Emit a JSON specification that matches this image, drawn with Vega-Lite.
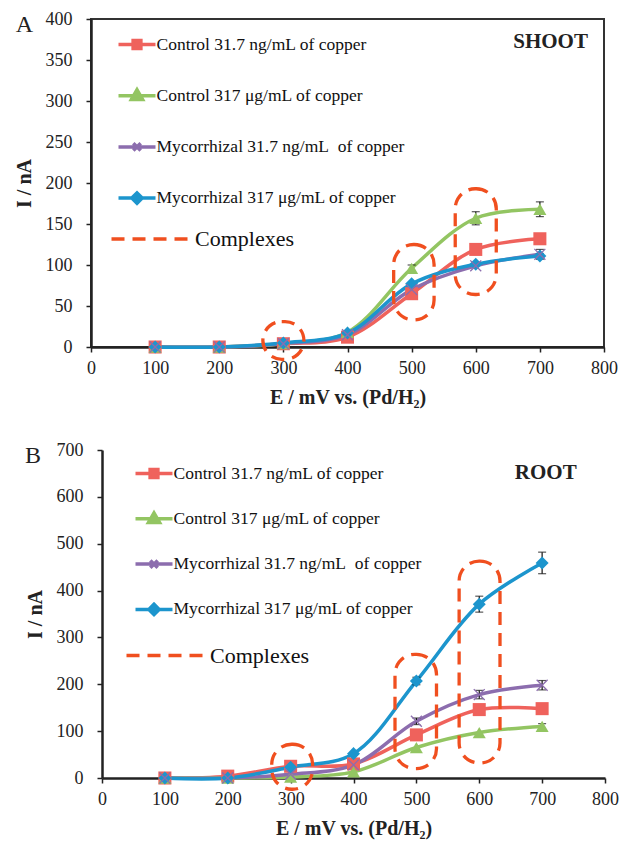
{
  "$schema": "https://vega.github.io/schema/vega-lite/v6.json",
  "padding": {"left": 13, "top": 9, "right": 0, "bottom": 5},
  "background": "white",
  "spacing": 33,
  "columns": 1,
  "datasets": {
    "pts": [
      {"panel": "A", "series": "Control 31.7 ng/mL of copper", "E": 100, "I": 0, "err": 0},
      {"panel": "A", "series": "Control 31.7 ng/mL of copper", "E": 200, "I": 0, "err": 0},
      {"panel": "A", "series": "Control 31.7 ng/mL of copper", "E": 300, "I": 4, "err": 0},
      {"panel": "A", "series": "Control 31.7 ng/mL of copper", "E": 400, "I": 12, "err": 0},
      {"panel": "A", "series": "Control 31.7 ng/mL of copper", "E": 500, "I": 65, "err": 0},
      {"panel": "A", "series": "Control 31.7 ng/mL of copper", "E": 600, "I": 119, "err": 0},
      {"panel": "A", "series": "Control 31.7 ng/mL of copper", "E": 700, "I": 132, "err": 0},
      {"panel": "A", "series": "Control 317 μg/mL of copper", "E": 100, "I": 0, "err": 0},
      {"panel": "A", "series": "Control 317 μg/mL of copper", "E": 200, "I": 0, "err": 0},
      {"panel": "A", "series": "Control 317 μg/mL of copper", "E": 300, "I": 4, "err": 0},
      {"panel": "A", "series": "Control 317 μg/mL of copper", "E": 400, "I": 18, "err": 0},
      {"panel": "A", "series": "Control 317 μg/mL of copper", "E": 500, "I": 96, "err": 4},
      {"panel": "A", "series": "Control 317 μg/mL of copper", "E": 600, "I": 157, "err": 8},
      {"panel": "A", "series": "Control 317 μg/mL of copper", "E": 700, "I": 168, "err": 9},
      {"panel": "A", "series": "Mycorrhizal 31.7 ng/mL\u00a0 of copper", "E": 100, "I": 0, "err": 0},
      {"panel": "A", "series": "Mycorrhizal 31.7 ng/mL\u00a0 of copper", "E": 200, "I": 0, "err": 0},
      {"panel": "A", "series": "Mycorrhizal 31.7 ng/mL\u00a0 of copper", "E": 300, "I": 4, "err": 0},
      {"panel": "A", "series": "Mycorrhizal 31.7 ng/mL\u00a0 of copper", "E": 400, "I": 15, "err": 0},
      {"panel": "A", "series": "Mycorrhizal 31.7 ng/mL\u00a0 of copper", "E": 500, "I": 70, "err": 0},
      {"panel": "A", "series": "Mycorrhizal 31.7 ng/mL\u00a0 of copper", "E": 600, "I": 99, "err": 0},
      {"panel": "A", "series": "Mycorrhizal 31.7 ng/mL\u00a0 of copper", "E": 700, "I": 113, "err": 6},
      {"panel": "A", "series": "Mycorrhizal 317 μg/mL of copper", "E": 100, "I": 0, "err": 0},
      {"panel": "A", "series": "Mycorrhizal 317 μg/mL of copper", "E": 200, "I": 0, "err": 0},
      {"panel": "A", "series": "Mycorrhizal 317 μg/mL of copper", "E": 300, "I": 5, "err": 0},
      {"panel": "A", "series": "Mycorrhizal 317 μg/mL of copper", "E": 400, "I": 17, "err": 0},
      {"panel": "A", "series": "Mycorrhizal 317 μg/mL of copper", "E": 500, "I": 77, "err": 0},
      {"panel": "A", "series": "Mycorrhizal 317 μg/mL of copper", "E": 600, "I": 101, "err": 0},
      {"panel": "A", "series": "Mycorrhizal 317 μg/mL of copper", "E": 700, "I": 111, "err": 3},
      {"panel": "B", "series": "Control 31.7 ng/mL of copper", "E": 100, "I": 0, "err": 0},
      {"panel": "B", "series": "Control 31.7 ng/mL of copper", "E": 200, "I": 4, "err": 0},
      {"panel": "B", "series": "Control 31.7 ng/mL of copper", "E": 300, "I": 25, "err": 0},
      {"panel": "B", "series": "Control 31.7 ng/mL of copper", "E": 400, "I": 30, "err": 0},
      {"panel": "B", "series": "Control 31.7 ng/mL of copper", "E": 500, "I": 92, "err": 0},
      {"panel": "B", "series": "Control 31.7 ng/mL of copper", "E": 600, "I": 146, "err": 0},
      {"panel": "B", "series": "Control 31.7 ng/mL of copper", "E": 700, "I": 148, "err": 0},
      {"panel": "B", "series": "Control 317 μg/mL of copper", "E": 100, "I": 0, "err": 0},
      {"panel": "B", "series": "Control 317 μg/mL of copper", "E": 200, "I": 0, "err": 0},
      {"panel": "B", "series": "Control 317 μg/mL of copper", "E": 300, "I": 2, "err": 0},
      {"panel": "B", "series": "Control 317 μg/mL of copper", "E": 400, "I": 13, "err": 0},
      {"panel": "B", "series": "Control 317 μg/mL of copper", "E": 500, "I": 65, "err": 0},
      {"panel": "B", "series": "Control 317 μg/mL of copper", "E": 600, "I": 97, "err": 0},
      {"panel": "B", "series": "Control 317 μg/mL of copper", "E": 700, "I": 110, "err": 6},
      {"panel": "B", "series": "Mycorrhizal 31.7 ng/mL\u00a0 of copper", "E": 100, "I": 0, "err": 0},
      {"panel": "B", "series": "Mycorrhizal 31.7 ng/mL\u00a0 of copper", "E": 200, "I": 0, "err": 0},
      {"panel": "B", "series": "Mycorrhizal 31.7 ng/mL\u00a0 of copper", "E": 300, "I": 8, "err": 0},
      {"panel": "B", "series": "Mycorrhizal 31.7 ng/mL\u00a0 of copper", "E": 400, "I": 28, "err": 0},
      {"panel": "B", "series": "Mycorrhizal 31.7 ng/mL\u00a0 of copper", "E": 500, "I": 121, "err": 7},
      {"panel": "B", "series": "Mycorrhizal 31.7 ng/mL\u00a0 of copper", "E": 600, "I": 178, "err": 9},
      {"panel": "B", "series": "Mycorrhizal 31.7 ng/mL\u00a0 of copper", "E": 700, "I": 198, "err": 10},
      {"panel": "B", "series": "Mycorrhizal 317 μg/mL of copper", "E": 100, "I": 0, "err": 0},
      {"panel": "B", "series": "Mycorrhizal 317 μg/mL of copper", "E": 200, "I": 0, "err": 0},
      {"panel": "B", "series": "Mycorrhizal 317 μg/mL of copper", "E": 300, "I": 23, "err": 0},
      {"panel": "B", "series": "Mycorrhizal 317 μg/mL of copper", "E": 400, "I": 52, "err": 0},
      {"panel": "B", "series": "Mycorrhizal 317 μg/mL of copper", "E": 500, "I": 207, "err": 8},
      {"panel": "B", "series": "Mycorrhizal 317 μg/mL of copper", "E": 600, "I": 371, "err": 17},
      {"panel": "B", "series": "Mycorrhizal 317 μg/mL of copper", "E": 700, "I": 459, "err": 23}
    ],
    "ell": [
      {"panel": "A", "kind": "Complexes", "x1": 268, "x2": 332, "y1": -15, "y2": 31},
      {"panel": "A", "kind": "Complexes", "x1": 472, "x2": 535, "y1": 33, "y2": 125},
      {"panel": "A", "kind": "Complexes", "x1": 568, "x2": 632, "y1": 64, "y2": 193},
      {"panel": "B", "kind": "Complexes", "x1": 270, "x2": 335, "y1": -24, "y2": 72},
      {"panel": "B", "kind": "Complexes", "x1": 466, "x2": 532, "y1": 20, "y2": 264},
      {"panel": "B", "kind": "Complexes", "x1": 568, "x2": 633, "y1": 32, "y2": 463}
    ],
    "lab": [
      {"panel": "A", "E": 775, "I": 372, "text": "SHOOT"},
      {"panel": "B", "E": 755, "I": 651, "text": "ROOT"}
    ],
    "letters": [
      {"panel": "A", "E": -90.4, "I": 384, "text": "A"},
      {"panel": "B", "E": -97, "I": 672, "text": "B"}
    ]
  },
  "concat": [
    {
      "width": 513,
      "height": 328,
      "encoding": {
        "x": {"field": "E", "type": "quantitative", "title": "E / mV vs. (Pd/H₂)", "scale": {"domain": [0, 800]}, "axis": {"values": [0, 100, 200, 300, 400, 500, 600, 700, 800]}},
        "y": {"field": "I", "type": "quantitative", "title": "I / nA", "scale": {"domain": [0, 400]}, "axis": {"values": [0, 50, 100, 150, 200, 250, 300, 350, 400]}}
      },
      "layer": [
        {
          "data": {"name": "pts"},
          "transform": [{"filter": "datum.panel == 'A'"}],
          "mark": {"type": "line", "interpolate": "catmull-rom", "strokeWidth": 3.5},
          "encoding": {
            "color": {
              "field": "series", "type": "nominal",
              "scale": {"domain": ["Control 31.7 ng/mL of copper", "Control 317 μg/mL of copper", "Mycorrhizal 31.7 ng/mL\u00a0 of copper", "Mycorrhizal 317 μg/mL of copper"], "range": ["#EF625C", "#93C562", "#8C6DAE", "#1C95CD"]},
              "legend": {
                "orient": "none", "legendX": 25.5, "legendY": 5, "title": null, "padding": 0, "rowPadding": 19.2,
                "symbolType": "stroke", "symbolSize": 1369, "labelFont": "Liberation Serif", "labelFontSize": 17.5, "labelColor": "#111", "labelOffset": -1, "labelLimit": 400,
                "encode": {"symbols": {"update": {
                  "shape": {"signal": "indexof(datum.value,'Control 31.7')>=0 ? 'M-1,0H1M-0.21,-0.21H0.21V0.21H-0.21Z' : indexof(datum.value,'Control 317')>=0 ? 'M-1,0H1M-0.3,0.2L0,-0.32L0.3,0.2Z' : indexof(datum.value,'Mycorrhizal 31.7')>=0 ? 'M-1,0H1M-0.2,-0.2L0.2,0.2M-0.2,0.2L0.2,-0.2' : 'M-1,0H1M-0.28,0L0,-0.28L0.28,0L0,0.28Z'"},
                  "fill": {"signal": "indexof(datum.value,'Control 31.7')>=0 ? '#EF625C' : indexof(datum.value,'Control 317')>=0 ? '#93C562' : indexof(datum.value,'Mycorrhizal 31.7')>=0 ? 'transparent' : '#1C95CD'"},
                  "stroke": {"signal": "indexof(datum.value,'Control 31.7')>=0 ? '#EF625C' : indexof(datum.value,'Control 317')>=0 ? '#93C562' : indexof(datum.value,'Mycorrhizal 31.7')>=0 ? '#8C6DAE' : '#1C95CD'"},
                  "strokeWidth": {"value": 3.5},
                  "opacity": {"value": 1}
                }}}
              }
            }
          }
        },
        {
          "data": {"name": "pts"},
          "transform": [{"filter": "datum.panel == 'A' && datum.err > 0"}],
          "mark": {"type": "errorbar", "color": "#111", "thickness": 1.2, "ticks": {"size": 8, "thickness": 1.2}},
          "encoding": {"yError": {"field": "err"}}
        },
        {
          "data": {"name": "pts"},
          "transform": [{"filter": "datum.panel == 'A' && indexof(datum.series, 'Mycorrhizal 31.7') < 0"}],
          "mark": {"type": "point", "filled": true, "size": 170, "opacity": 1},
          "encoding": {
            "color": {"field": "series", "type": "nominal"},
            "shape": {"field": "series", "type": "nominal", "scale": {"range": ["square", "triangle-up", "diamond"]}, "legend": null}
          }
        },
        {
          "data": {"name": "pts"},
          "transform": [{"filter": "datum.panel == 'A' && indexof(datum.series, 'Mycorrhizal 31.7') >= 0"}],
          "mark": {"type": "point", "filled": false, "shape": "M-1,-1L1,1M-1,1L1,-1", "size": 120, "strokeWidth": 1.3, "opacity": 1},
          "encoding": {
            "color": {"field": "series", "type": "nominal"}
          }
        },
        {
          "data": {"name": "ell"},
          "transform": [{"filter": "datum.panel == 'A'"}],
          "mark": {"type": "rect", "fill": "transparent", "strokeWidth": 3.3, "strokeDash": [13, 8], "cornerRadius": 20},
          "encoding": {
            "x": {"field": "x1", "type": "quantitative", "title": "E / mV vs. (Pd/H₂)", "scale": {"domain": [0, 800]}},
            "x2": {"field": "x2"},
            "y": {"field": "y1", "type": "quantitative", "title": "I / nA", "scale": {"domain": [0, 400]}},
            "y2": {"field": "y2"},
            "stroke": {"field": "kind", "type": "nominal", "scale": {"range": ["#F04F1F"]},
              "legend": {"orient": "none", "legendX": 18.5, "legendY": 178, "title": null, "padding": 0, "symbolType": "stroke", "symbolSize": 6400, "symbolStrokeWidth": 3.5, "symbolFillColor": "transparent", "symbolDash": [13, 8], "labelFont": "Liberation Serif", "labelFontSize": 22, "labelColor": "#111", "labelOffset": 1.5}}
          }
        },
        {
          "data": {"name": "lab"},
          "transform": [{"filter": "datum.panel == 'A'"}],
          "mark": {"type": "text", "align": "right", "baseline": "middle", "font": "Liberation Serif", "fontSize": 21, "fontWeight": "bold", "color": "#222"},
          "encoding": {"text": {"field": "text"}}
        },
        {
          "data": {"name": "letters"},
          "transform": [{"filter": "datum.panel == 'A'"}],
          "mark": {"type": "text", "align": "right", "baseline": "alphabetic", "font": "Liberation Serif", "fontSize": 24, "color": "#222"},
          "encoding": {"text": {"field": "text"}}
        }
      ]
    },
    {
      "width": 514,
      "height": 328,
      "view": {"stroke": null},
      "encoding": {
        "x": {"field": "E", "type": "quantitative", "title": "E / mV vs. (Pd/H₂)", "scale": {"domain": [0, 800], "range": [11, 514]}, "axis": {"values": [0, 100, 200, 300, 400, 500, 600, 700, 800]}},
        "y": {"field": "I", "type": "quantitative", "title": "I / nA", "scale": {"domain": [0, 700]}, "axis": {"values": [0, 100, 200, 300, 400, 500, 600, 700], "offset": -11}}
      },
      "layer": [
        {
          "mark": {"type": "rule", "color": "#333", "strokeWidth": 2},
          "encoding": {
            "x": {"datum": 0, "type": "quantitative"},
            "x2": {"datum": 800},
            "y": {"datum": 700, "type": "quantitative"}
          }
        },
        {
          "mark": {"type": "rule", "color": "#333", "strokeWidth": 2},
          "encoding": {
            "x": {"datum": 800, "type": "quantitative"},
            "y": {"datum": 0, "type": "quantitative"},
            "y2": {"datum": 700}
          }
        },
        {
          "data": {"name": "pts"},
          "transform": [{"filter": "datum.panel == 'B'"}],
          "mark": {"type": "line", "interpolate": "catmull-rom", "strokeWidth": 3.5},
          "encoding": {
            "color": {
              "field": "series", "type": "nominal",
              "scale": {"domain": ["Control 31.7 ng/mL of copper", "Control 317 μg/mL of copper", "Mycorrhizal 31.7 ng/mL\u00a0 of copper", "Mycorrhizal 317 μg/mL of copper"], "range": ["#EF625C", "#93C562", "#8C6DAE", "#1C95CD"]},
              "legend": {
                "orient": "none", "legendX": 42.5, "legendY": 3, "title": null, "padding": 0, "rowPadding": 13.3,
                "symbolType": "stroke", "symbolSize": 1369, "labelFont": "Liberation Serif", "labelFontSize": 17.5, "labelColor": "#111", "labelOffset": -1, "labelLimit": 400,
                "encode": {"symbols": {"update": {
                  "shape": {"signal": "indexof(datum.value,'Control 31.7')>=0 ? 'M-1,0H1M-0.21,-0.21H0.21V0.21H-0.21Z' : indexof(datum.value,'Control 317')>=0 ? 'M-1,0H1M-0.3,0.2L0,-0.32L0.3,0.2Z' : indexof(datum.value,'Mycorrhizal 31.7')>=0 ? 'M-1,0H1M-0.2,-0.2L0.2,0.2M-0.2,0.2L0.2,-0.2' : 'M-1,0H1M-0.28,0L0,-0.28L0.28,0L0,0.28Z'"},
                  "fill": {"signal": "indexof(datum.value,'Control 31.7')>=0 ? '#EF625C' : indexof(datum.value,'Control 317')>=0 ? '#93C562' : indexof(datum.value,'Mycorrhizal 31.7')>=0 ? 'transparent' : '#1C95CD'"},
                  "stroke": {"signal": "indexof(datum.value,'Control 31.7')>=0 ? '#EF625C' : indexof(datum.value,'Control 317')>=0 ? '#93C562' : indexof(datum.value,'Mycorrhizal 31.7')>=0 ? '#8C6DAE' : '#1C95CD'"},
                  "strokeWidth": {"value": 3.5},
                  "opacity": {"value": 1}
                }}}
              }
            }
          }
        },
        {
          "data": {"name": "pts"},
          "transform": [{"filter": "datum.panel == 'B' && datum.err > 0"}],
          "mark": {"type": "errorbar", "color": "#111", "thickness": 1.2, "ticks": {"size": 8, "thickness": 1.2}},
          "encoding": {"yError": {"field": "err"}}
        },
        {
          "data": {"name": "pts"},
          "transform": [{"filter": "datum.panel == 'B' && indexof(datum.series, 'Mycorrhizal 31.7') < 0"}],
          "mark": {"type": "point", "filled": true, "size": 170, "opacity": 1},
          "encoding": {
            "color": {"field": "series", "type": "nominal"},
            "shape": {"field": "series", "type": "nominal", "scale": {"range": ["square", "triangle-up", "diamond"]}, "legend": null}
          }
        },
        {
          "data": {"name": "pts"},
          "transform": [{"filter": "datum.panel == 'B' && indexof(datum.series, 'Mycorrhizal 31.7') >= 0"}],
          "mark": {"type": "point", "filled": false, "shape": "M-1,-1L1,1M-1,1L1,-1", "size": 120, "strokeWidth": 1.3, "opacity": 1},
          "encoding": {
            "color": {"field": "series", "type": "nominal"}
          }
        },
        {
          "data": {"name": "ell"},
          "transform": [{"filter": "datum.panel == 'B'"}],
          "mark": {"type": "rect", "fill": "transparent", "strokeWidth": 3.3, "strokeDash": [13, 8], "cornerRadius": 20},
          "encoding": {
            "x": {"field": "x1", "type": "quantitative", "title": "E / mV vs. (Pd/H₂)", "scale": {"domain": [0, 800], "range": [11, 514]}},
            "x2": {"field": "x2"},
            "y": {"field": "y1", "type": "quantitative", "title": "I / nA", "scale": {"domain": [0, 700]}},
            "y2": {"field": "y2"},
            "stroke": {"field": "kind", "type": "nominal", "scale": {"range": ["#F04F1F"]},
              "legend": {"orient": "none", "legendX": 33.5, "legendY": 163.5, "title": null, "padding": 0, "symbolType": "stroke", "symbolSize": 6400, "symbolStrokeWidth": 3.5, "symbolFillColor": "transparent", "symbolDash": [13, 8], "labelFont": "Liberation Serif", "labelFontSize": 22, "labelColor": "#111", "labelOffset": 1.5}}
          }
        },
        {
          "data": {"name": "lab"},
          "transform": [{"filter": "datum.panel == 'B'"}],
          "mark": {"type": "text", "align": "right", "baseline": "middle", "font": "Liberation Serif", "fontSize": 21, "fontWeight": "bold", "color": "#222"},
          "encoding": {"text": {"field": "text"}}
        },
        {
          "data": {"name": "letters"},
          "transform": [{"filter": "datum.panel == 'B'"}],
          "mark": {"type": "text", "align": "right", "baseline": "alphabetic", "font": "Liberation Serif", "fontSize": 24, "color": "#222"},
          "encoding": {"text": {"field": "text"}}
        }
      ]
    }
  ],
  "resolve": {
    "scale": {"color": "independent", "stroke": "independent", "shape": "independent"},
    "legend": {"color": "independent", "stroke": "independent", "shape": "independent"}
  },
  "config": {
    "font": "Liberation Serif",
    "view": {"stroke": "#333", "strokeWidth": 2},
    "axis": {
      "grid": false,
      "labelFont": "Liberation Serif", "labelFontSize": 18, "labelColor": "#222", "labelFlush": false, "labelOverlap": false,
      "titleFont": "Liberation Serif", "titleFontSize": 20, "titleFontWeight": "bold", "titleColor": "#222",
      "domainColor": "#222", "domainWidth": 2.5, "tickColor": "#222", "tickWidth": 1.5, "tickSize": 5
    },
    "axisX": {"titlePadding": 10, "labelPadding": 7},
    "axisY": {"titlePadding": 11, "labelPadding": 14}
  }
}
